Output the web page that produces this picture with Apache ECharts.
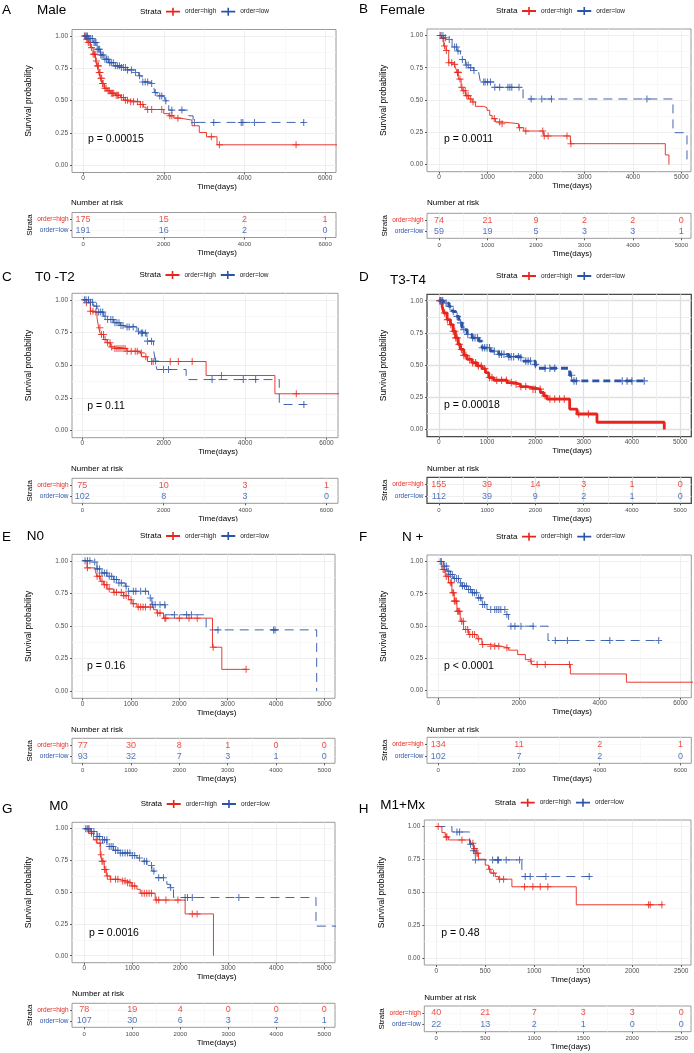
<!DOCTYPE html>
<html><head><meta charset="utf-8">
<script src="https://cdn.jsdelivr.net/npm/echarts@6/dist/echarts.min.js"></script>
<style>html,body{margin:0;padding:0;background:#fff}#c{width:694px;height:1053px}</style>
</head><body><div id="c"></div><script>
// ---------------- DATA ----------------
const strata = ['order=low', 'order=high'];
const survTicks = [0, 0.25, 0.5, 0.75, 1];
const survMinor = [0.125, 0.375, 0.625, 0.875];
const ticks6000 = [0, 2000, 4000, 6000];
const minor6000 = [1000, 3000, 5000];
const ticks5000 = [0, 1000, 2000, 3000, 4000, 5000];
const minor5000 = [500, 1500, 2500, 3500, 4500];
const ticks2500 = [0, 500, 1000, 1500, 2000, 2500];
const minor2500 = [250, 750, 1250, 1750, 2250];

// A Male
const maleHigh = [[0,1],[58,.974],[116,.949],[182,.91],[248,.859],[306,.807],[347,.769],[388,.717],[430,.674],[471,.632],[529,.596],[595,.576],[678,.558],[802,.542],[926,.524],[1008,.504],[1132,.491],[1420,.47],[1500,.45],[1560,.432],[2000,.40],[2130,.383],[2250,.365],[2400,.35],[2700,.306],[2880,.254],[3060,.221],[3320,.159],[6600,.159]];
const maleHighCens = [40,90,130,170,210,250,280,300,330,360,380,400,420,440,460,480,500,540,570,620,650,700,730,760,820,850,880,950,1000,1050,1100,1180,1250,1350,1420,1480,1600,1700,1950,2150,2200,2350,3180,3380,5280];
const maleLow = [[0,1],[140,.98],[264,.949],[347,.897],[430,.853],[512,.82],[636,.794],[760,.769],[926,.756],[1091,.738],[1256,.717],[1380,.692],[1463,.645],[1628,.632],[1752,.614],[1769,.563],[1835,.537],[2000,.524],[2041,.499],[2124,.427],[2620,.383],[2727,.332],[5470,.332]];
const maleLowCens = [50,80,110,150,190,230,270,300,320,350,380,410,440,470,500,540,580,620,660,700,750,800,850,900,950,1000,1050,1100,1200,1300,1400,1480,1540,1600,1700,1790,1900,1950,2050,2200,2450,2760,3240,3920,3960,4250,5470];
const maleRiskTimes = [0, 2000, 4000, 6000];
const maleRiskHigh = [175, 15, 2, 1];
const maleRiskLow = [191, 16, 2, 0];

// B Female
const femHigh = [[0,1],[48,.977],[96,.918],[144,.884],[199,.789],[303,.776],[337,.753],[371,.714],[406,.662],[454,.598],[495,.572],[543,.534],[612,.508],[681,.485],[750,.451],[922,.441],[990,.42],[1045,.381],[1094,.356],[1162,.33],[1300,.317],[1640,.286],[1747,.26],[2160,.222],[2710,.162],[4670,.075],[4745,0]];
const femHighCens = [20,80,110,150,200,260,320,380,400,430,470,500,540,570,600,650,700,1140,1250,1300,1660,1790,2140,2170,2250,2640,2720];
const femLow = [[0,1],[96,.982],[199,.969],[268,.91],[371,.879],[440,.814],[543,.771],[612,.75],[715,.729],[818,.711],[853,.64],[1128,.598],[1733,.508],[4828,.247],[5117,0]];
const femLowCens = [40,80,130,210,320,360,390,480,560,600,650,720,920,950,1000,1060,1150,1250,1420,1460,1500,1650,1900,2120,2320,4290];
const femRiskTimes = [0, 1000, 2000, 3000, 4000, 5000];
const femRiskHigh = [74, 21, 9, 2, 2, 0];
const femRiskLow = [59, 19, 5, 3, 3, 1];

// C T0-T2
const t02High = [[0,1],[98,.977],[196,.913],[278,.906],[360,.862],[401,.786],[442,.735],[523,.696],[605,.671],[687,.64],[769,.628],[1096,.607],[1423,.594],[1464,.564],[1600,.528],[3042,.421],[4734,.281],[6600,.281]];
const t02HighCens = [100,200,260,330,430,470,520,560,620,680,720,800,850,900,950,1000,1050,1100,1200,1300,1350,1450,1560,1700,1740,2160,2360,2700,3420,5260];
const t02Low = [[0,1],[155,.982],[278,.952],[360,.906],[523,.875],[605,.849],[769,.824],[932,.804],[1096,.793],[1341,.76],[1423,.747],[1586,.684],[1750,.62],[1791,.531],[1831,.467],[2551,.39],[4841,.199],[5470,.199]];
const t02LowCens = [50,90,150,200,250,350,400,450,500,560,620,700,750,800,850,900,950,1000,1100,1150,1250,1380,1450,1480,1550,1600,1700,1800,1995,2118,3189,3957,4260,5446];
const t02RiskTimes = [0, 2000, 4000, 6000];
const t02RiskHigh = [75, 10, 3, 1];
const t02RiskLow = [102, 8, 3, 0];

// D T3-T4
const t34High = [[0,1],[69,.956],[103,.905],[172,.853],[241,.815],[297,.763],[345,.712],[400,.661],[448,.622],[517,.576],[586,.545],[690,.519],[793,.494],[897,.473],[966,.442],[1034,.404],[1138,.383],[1414,.365],[1552,.352],[1690,.334],[1828,.326],[1931,.314],[2103,.288],[2172,.262],[2241,.237],[2710,.159],[2862,.121],[3276,.057],[4670,0]];
const t34HighCens = [20,50,120,180,250,300,330,350,380,420,470,520,560,640,700,760,820,880,950,1050,1100,1200,1300,1400,1500,1600,1700,1800,1950,2000,2100,2200,2300,2400,2500,2600,2900,3100];
const t34Low = [[0,1],[103,.982],[207,.956],[276,.918],[345,.879],[414,.828],[483,.776],[586,.738],[690,.712],[828,.686],[897,.635],[1069,.609],[1241,.584],[1448,.566],[1690,.558],[1724,.532],[2000,.506],[2034,.476],[2710,.422],[2759,.378],[4255,.378]];
const t34LowCens = [30,80,150,230,300,380,450,520,600,700,750,800,900,950,1000,1050,1150,1250,1300,1350,1450,1500,1550,1650,1700,1800,1850,1900,2000,2200,2300,2400,2750,2800,2850,3800,3900,4000,4255];
const t34RiskTimes = [0, 1000, 2000, 3000, 4000, 5000];
const t34RiskHigh = [155, 39, 14, 3, 1, 0];
const t34RiskLow = [112, 39, 9, 2, 1, 0];

// E N0
const n0High = [[0,1],[90,.946],[262,.92],[296,.882],[365,.843],[434,.817],[503,.784],[641,.758],[847,.733],[950,.702],[1019,.671],[1123,.645],[1467,.625],[1536,.599],[1673,.56],[2686,.337],[2879,.167],[3381,.167]];
const n0HighCens = [100,300,350,400,450,500,550,650,700,800,850,900,1000,1050,1150,1200,1250,1300,1400,1550,1600,1700,1720,2000,2200,2370,2700,3381];
const n0Low = [[0,1],[193,.99],[296,.938],[365,.907],[503,.882],[641,.856],[744,.83],[882,.805],[950,.766],[1364,.715],[1432,.663],[1708,.586],[2555,.47],[4841,0]];
const n0LowCens = [50,100,150,250,300,350,400,450,500,550,600,650,700,750,800,900,950,1050,1100,1200,1300,1400,1450,1500,1600,1700,1900,2150,2250,2800,3950,3980];
const n0RiskTimes = [0, 1000, 2000, 3000, 4000, 5000];
const n0RiskHigh = [77, 30, 8, 1, 0, 0];
const n0RiskLow = [93, 32, 7, 3, 1, 0];

// F N+
const npHigh = [[0,1],[91,.938],[174,.886],[256,.835],[339,.757],[397,.693],[463,.615],[545,.537],[628,.473],[752,.434],[959,.401],[1083,.357],[1289,.344],[1537,.331],[1744,.313],[1967,.279],[2157,.24],[2281,.227],[2322,.202],[3273,.129],[4661,.065],[6600,.065]];
const npHighCens = [80,120,150,200,250,300,330,360,380,400,420,450,480,500,530,580,620,680,730,780,850,900,1000,1100,1300,1400,1500,1700,2300,2450,2650,3250];
const npLow = [[0,1],[132,.964],[215,.925],[298,.899],[380,.868],[504,.835],[587,.809],[711,.783],[835,.757],[959,.718],[1083,.667],[1207,.628],[1661,.589],[1744,.55],[1785,.499],[2719,.388],[5463,.388]];
const npLowCens = [50,150,200,250,300,350,400,450,500,550,600,650,700,750,800,850,900,950,1000,1050,1100,1150,1300,1400,1450,1500,1550,1650,1700,1800,1900,2050,2350,2900,3200,4250,5460];
const npRiskTimes = [0, 2000, 4000, 6000];
const npRiskHigh = [134, 11, 2, 1];
const npRiskLow = [102, 7, 2, 0];

// G M0
const m0High = [[0,1],[90,.964],[194,.912],[264,.886],[333,.795],[368,.744],[416,.679],[458,.627],[541,.601],[714,.588],[888,.575],[992,.549],[1096,.523],[1165,.492],[1477,.438],[2101,.329],[2691,0]];
const m0HighCens = [80,150,250,330,350,370,390,420,450,480,550,650,700,800,850,900,950,1000,1050,1200,1250,1300,1350,1400,1500,1550,1700,1950,2250,2350];
const m0Low = [[0,1],[125,.977],[264,.938],[333,.912],[472,.86],[610,.829],[749,.808],[957,.788],[1096,.769],[1200,.744],[1304,.71],[1408,.666],[1477,.614],[1720,.562],[1789,.536],[1859,.458],[4827,.233],[5400,.233]];
const m0LowCens = [30,60,100,150,200,280,320,380,420,470,520,560,600,650,700,750,800,850,900,950,1000,1050,1150,1250,1300,1400,1450,1550,1650,1800,2100,2150,2250,3220];
const m0RiskTimes = [0, 1000, 2000, 3000, 4000, 5000];
const m0RiskHigh = [78, 19, 4, 0, 0, 0];
const m0RiskLow = [107, 30, 6, 3, 2, 1];

// H M1+Mx
const mxHigh = [[0,1],[58,.954],[92,.921],[126,.898],[347,.873],[381,.832],[408,.797],[432,.751],[500,.706],[534,.675],[558,.645],[602,.619],[636,.599],[772,.541],[1429,.404],[2313,.404]];
const mxHighCens = [20,102,109,262,374,391,415,425,544,585,646,687,901,986,1061,1139,2167,2184,2303];
const mxLow = [[0,1],[160,.959],[340,.865],[374,.815],[398,.746],[874,.619],[1571,.619]];
const mxLowCens = [211,238,350,380,400,575,626,636,714,850,908,959,1119,1561];
const mxRiskTimes = [0, 500, 1000, 1500, 2000, 2500];
const mxRiskHigh = [40, 21, 7, 3, 3, 0];
const mxRiskLow = [22, 13, 2, 1, 0, 0];

// ---------------- LAYOUT ----------------
const panels = [
  {letter:'A', title:'Male', pval:'p = 0.00015', high:maleHigh, low:maleLow, hc:maleHighCens, lc:maleLowCens, rt:maleRiskTimes, rh:maleRiskHigh, rl:maleRiskLow, ticks:ticks6000, minor:minor6000, xr:[-275,6270],
   box:[72,29.5,264,143], risk:[212.5,25], letterXY:[2,10], titleXY:[37,10], legXY:[140,11.7], pXY:[88,139.3], narXY:[71,202.3], bold:false},
  {letter:'B', title:'Female', pval:'p = 0.0011', high:femHigh, low:femLow, hc:femHighCens, lc:femLowCens, rt:femRiskTimes, rh:femRiskHigh, rl:femRiskLow, ticks:ticks5000, minor:minor5000, xr:[-250,5200],
   box:[427,29,264,142.7], risk:[213.3,25], letterXY:[359,9.5], titleXY:[380,10], legXY:[496,11], pXY:[444,139], narXY:[427,202.3], bold:false},
  {letter:'C', title:'T0 -T2', pval:'p = 0.11', high:t02High, low:t02Low, hc:t02HighCens, lc:t02LowCens, rt:t02RiskTimes, rh:t02RiskHigh, rl:t02RiskLow, ticks:ticks6000, minor:minor6000, xr:[-255,6285],
   box:[72,293.3,266,144.4], risk:[478.3,25], letterXY:[2,277], titleXY:[35,277.3], legXY:[139.5,275], pXY:[87.3,406], narXY:[71,469], bold:false},
  {letter:'D', title:'T3-T4', pval:'p = 0.00018', high:t34High, low:t34Low, hc:t34HighCens, lc:t34LowCens, rt:t34RiskTimes, rh:t34RiskHigh, rl:t34RiskLow, ticks:ticks5000, minor:minor5000, xr:[-245,5230],
   box:[427,294.3,264.3,142.4], risk:[477.3,26], letterXY:[359,277.3], titleXY:[390,280], legXY:[496,276], pXY:[444,405], narXY:[427,468.3], bold:true},
  {letter:'E', title:'N0', pval:'p = 0.16', high:n0High, low:n0Low, hc:n0HighCens, lc:n0LowCens, rt:n0RiskTimes, rh:n0RiskHigh, rl:n0RiskLow, ticks:ticks5000, minor:minor5000, xr:[-220,5220],
   box:[72,554.3,263,144], risk:[738.3,25], letterXY:[2,537], titleXY:[26.7,536.7], legXY:[140,536], pXY:[87,666], narXY:[71,729.3], bold:false},
  {letter:'F', title:'N +', pval:'p < 0.0001', high:npHigh, low:npLow, hc:npHighCens, lc:npLowCens, rt:npRiskTimes, rh:npRiskHigh, rl:npRiskLow, ticks:ticks6000, minor:minor6000, xr:[-278,6268],
   box:[427,555,264.3,142.7], risk:[737.3,26], letterXY:[359,537], titleXY:[402,537.3], legXY:[496,536.7], pXY:[444,666], narXY:[427,729.3], bold:false},
  {letter:'G', title:'M0', pval:'p = 0.0016', high:m0High, low:m0Low, hc:m0HighCens, lc:m0LowCens, rt:m0RiskTimes, rh:m0RiskHigh, rl:m0RiskLow, ticks:ticks5000, minor:minor5000, xr:[-256,5223],
   box:[72,822.3,263,140.4], risk:[1003.3,24], letterXY:[2,809.3], titleXY:[49.3,806.7], legXY:[140.7,804], pXY:[89,932.7], narXY:[72,993.3], bold:false},
  {letter:'H', title:'M1+Mx', pval:'p = 0.48', high:mxHigh, low:mxLow, hc:mxHighCens, lc:mxLowCens, rt:mxRiskTimes, rh:mxRiskHigh, rl:mxRiskLow, ticks:ticks2500, minor:minor2500, xr:[-122,2600],
   box:[424.3,820,266.7,145], risk:[1006,25.7], letterXY:[358.7,809], titleXY:[380.3,805], legXY:[494.7,802.7], pXY:[441.3,933.3], narXY:[424.3,997.3], bold:false}
];

const RED = '#E8251C', BLUE = '#2B54A9';
const FONT = '"Liberation Sans", Arial, Helvetica, sans-serif';
const cross = 'path://M0,4.25H10V5.75H0Z M4.25,0H5.75V10H4.25Z';
const legIcon = 'path://M0,3.1H14V4.9H0Z M6.2,0H7.8V8H6.2Z';

function stepAt(curve, t) {
  let s = curve[0][1];
  for (const p of curve) { if (p[0] <= t) s = p[1]; else break; }
  return s;
}

const grid = [], xAxis = [], yAxis = [], series = [], graphic = [], legend = [];

panels.forEach(P => {
  const bold = P.bold;
  const borderColor = bold ? '#4a4a4a' : '#8f8f8f';
  const borderWidth = bold ? 1.3 : 0.9;
  const gMaj = { color: bold ? '#e0e0e0' : '#ebebeb', width: bold ? 1.3 : 0.8 };
  const gMin = { color: bold ? '#efefef' : '#f5f5f5', width: bold ? 1.1 : 0.7 };
  const tickStyle = { color: '#333', width: 0.8 };
  const gPlot = grid.length;
  grid.push({ left: P.box[0], top: P.box[1], width: P.box[2], height: P.box[3], show: true, borderColor, borderWidth, backgroundColor: '#fff' });
  const gRisk = grid.length;
  grid.push({ left: P.box[0], top: P.risk[0], width: P.box[2], height: P.risk[1], show: true, borderColor, borderWidth, backgroundColor: '#fff' });

  const xMain = (g, isRisk) => ({
    type: 'value', gridIndex: g, min: P.xr[0], max: P.xr[1], position: 'bottom',
    axisLine: { show: false, onZero: false },
    axisTick: { show: true, length: 2, lineStyle: tickStyle, customValues: P.ticks },
    axisLabel: { customValues: P.ticks, fontSize: isRisk ? 6 : 6.5, color: '#4d4d4d', fontFamily: FONT, margin: isRisk ? 4 : 2.5, formatter: v => String(v) },
    splitLine: { show: true, lineStyle: gMaj },
    name: 'Time(days)', nameLocation: 'middle', nameGap: isRisk ? 11.5 : 10.5,
    nameTextStyle: { fontSize: 8, color: '#000', fontFamily: FONT, padding: [0, 0, 0, 26] }
  });
  const xMinor = g => ({
    type: 'value', gridIndex: g, min: P.xr[0], max: P.xr[1], position: 'top',
    axisLine: { show: false, onZero: false },
    axisTick: { show: false, customValues: P.minor },
    axisLabel: { show: false, customValues: P.minor },
    splitLine: { show: true, lineStyle: gMin }
  });
  const xiPlot = xAxis.length; xAxis.push(xMain(gPlot, false)); xAxis.push(xMinor(gPlot));
  const xiRisk = xAxis.length; xAxis.push(xMain(gRisk, true)); xAxis.push(xMinor(gRisk));

  const yiPlot = yAxis.length;
  yAxis.push({
    type: 'value', gridIndex: gPlot, min: -0.055, max: 1.05, position: 'left',
    axisLine: { show: false, onZero: false },
    axisTick: { show: true, length: 2, lineStyle: tickStyle, customValues: survTicks },
    axisLabel: { customValues: survTicks, fontSize: 6.5, color: '#4d4d4d', fontFamily: FONT, margin: 4, formatter: v => Number(v).toFixed(2) },
    splitLine: { show: true, lineStyle: gMaj },
    name: 'Survival probability', nameLocation: 'middle', nameGap: 38.5,
    nameTextStyle: { fontSize: 8.5, color: '#000', fontFamily: FONT }
  });
  yAxis.push({
    type: 'value', gridIndex: gPlot, min: -0.055, max: 1.05, position: 'right',
    axisLine: { show: false, onZero: false },
    axisTick: { show: false, customValues: survMinor },
    axisLabel: { show: false, customValues: survMinor },
    splitLine: { show: true, lineStyle: gMin }
  });
  const yiRisk = yAxis.length;
  yAxis.push({
    type: 'value', gridIndex: gRisk, min: 0.4, max: 2.6, position: 'left',
    axisLine: { show: false, onZero: false },
    axisTick: { show: true, length: 2, lineStyle: tickStyle, customValues: [1, 2] },
    axisLabel: { customValues: [1, 2], fontSize: 6.5, fontFamily: FONT, margin: 3.5,
      formatter: v => strata[Math.round(Number(v)) - 1],
      color: v => (Math.round(Number(v)) === 2 ? RED : BLUE) },
    splitLine: { show: true, lineStyle: gMin },
    name: 'Strata', nameLocation: 'middle', nameGap: 38.5,
    nameTextStyle: { fontSize: 8, color: '#000', fontFamily: FONT }
  });

  const lw = bold ? 2.8 : 0.9;
  const dash = bold ? [7, 4] : [9, 6];
  const symSize = bold ? 7.5 : 7;
  // curves
  series.push({ type: 'line', name: 'order=high', xAxisIndex: xiPlot, yAxisIndex: yiPlot, data: P.high, step: 'end', showSymbol: false, symbol: 'none',
    lineStyle: { color: RED, width: lw }, itemStyle: { color: RED }, z: 3, silent: true });
  series.push({ type: 'line', name: 'order=low', xAxisIndex: xiPlot, yAxisIndex: yiPlot, data: P.low, step: 'end', showSymbol: false, symbol: 'none',
    lineStyle: { color: BLUE, width: lw, type: dash }, itemStyle: { color: BLUE }, z: 3, silent: true });
  // censor marks
  series.push({ type: 'scatter', name: 'order=high', xAxisIndex: xiPlot, yAxisIndex: yiPlot, symbol: cross, symbolSize: symSize,
    data: P.hc.map(t => [t, stepAt(P.high, t)]), itemStyle: { color: RED }, z: 4, silent: true });
  series.push({ type: 'scatter', name: 'order=low', xAxisIndex: xiPlot, yAxisIndex: yiPlot, symbol: cross, symbolSize: symSize,
    data: P.lc.map(t => [t, stepAt(P.low, t)]), itemStyle: { color: BLUE }, z: 4, silent: true });
  // risk table numbers
  const riskSeries = (times, vals, row, color) => ({
    type: 'scatter', xAxisIndex: xiRisk, yAxisIndex: yiRisk, symbol: 'circle', symbolSize: 0.1,
    itemStyle: { color: 'rgba(0,0,0,0)' }, silent: true, z: 5,
    data: times.map((t, i) => [t, row, vals[i]]),
    label: { show: true, position: 'inside', formatter: p => String(p.value[2]), color, fontSize: 9, fontFamily: FONT }
  });
  series.push(riskSeries(P.rt, P.rh, 2, RED));
  series.push(riskSeries(P.rt, P.rl, 1, BLUE));

  // legend
  legend.push({
    left: P.legXY[0] + 26, top: P.legXY[1] - 4, itemWidth: 14, itemHeight: 8, itemGap: 5, padding: 0,
    selectedMode: false,
    data: [{ name: 'order=high', icon: legIcon, itemStyle: { color: RED } }, { name: 'order=low', icon: legIcon, itemStyle: { color: BLUE } }],
    textStyle: { fontSize: 6.5, color: '#1a1a1a', fontFamily: FONT }
  });

  const txt = (x, y, text, size, fill, extra) => ({
    type: 'text', x, y, silent: true, z: 10,
    style: Object.assign({ text, fontSize: size, fontFamily: FONT, fill, align: 'left', verticalAlign: 'middle' }, extra || {})
  });
  graphic.push(txt(P.letterXY[0], P.letterXY[1], P.letter, 13.5, '#000'));
  graphic.push(txt(P.titleXY[0], P.titleXY[1], P.title, 13.5, '#000'));
  graphic.push(txt(P.legXY[0], P.legXY[1], 'Strata', 8, '#000'));
  graphic.push(txt(P.pXY[0], P.pXY[1], P.pval, 10.5, '#000'));
  graphic.push(txt(P.narXY[0], P.narXY[1], 'Number at risk', 8, '#000'));
});

// the lower-left panel row overlaps the bottom of panel C's table title
graphic.push({ type: 'rect', shape: { x: 0, y: 521.5, width: 347, height: 8 }, style: { fill: '#fff' }, z: 20, silent: true });

const chart = echarts.init(document.getElementById('c'), null, { renderer: 'canvas' });
chart.setOption({
  animation: false,
  backgroundColor: '#fff',
  grid, xAxis, yAxis, series, legend, graphic
});
</script></body></html>
